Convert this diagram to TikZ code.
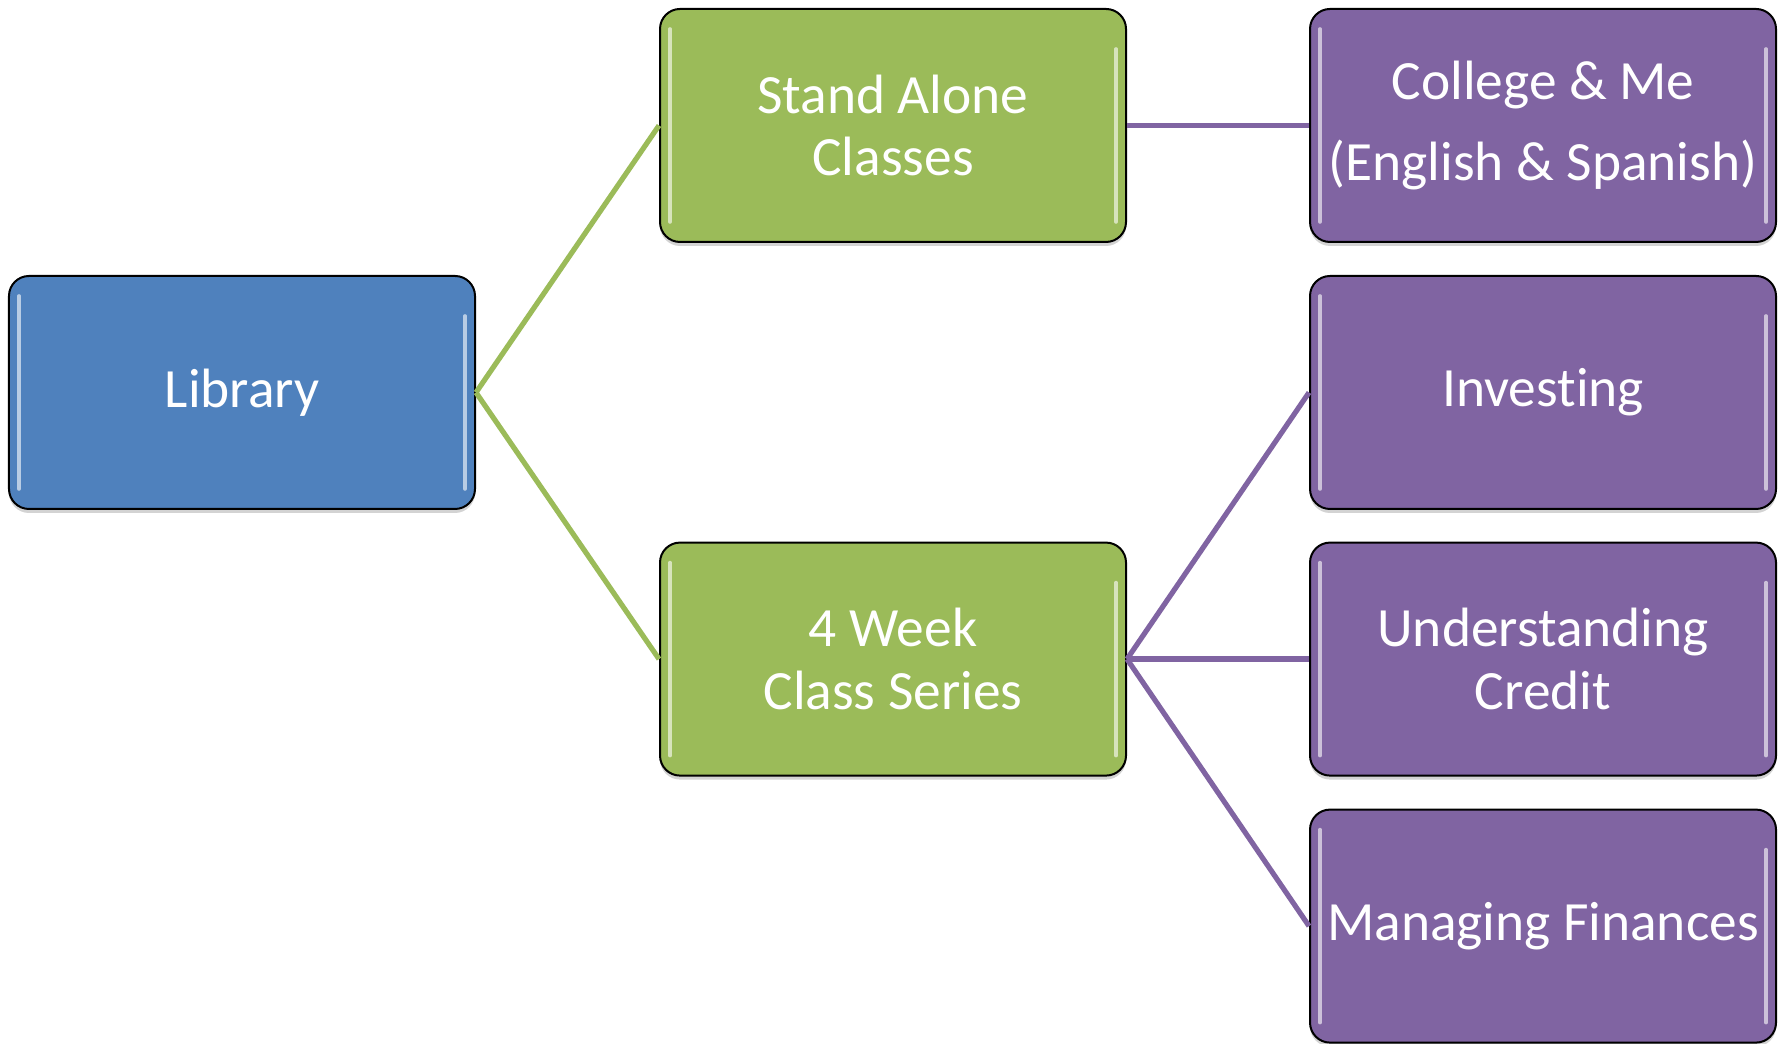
\documentclass[tikz,border=0pt]{standalone}
\usepackage{fontspec}
\setmainfont[Ligatures=NoCommon]{Carlito}
\usetikzlibrary{positioning,shadows}
\definecolor{libblue}{HTML}{4F81BD}
\definecolor{classgreen}{HTML}{9BBB59}
\definecolor{topicpurple}{HTML}{8064A2}

\begin{document}
\begin{tikzpicture}[
	box/.style={draw=black, line width=0.5pt, rounded corners=5pt,
		minimum width=116.5pt, minimum height=58.25pt, inner sep=0pt,
		text=white, align=center, font=\fontsize{13.85pt}{15.6pt}\selectfont,
		drop shadow={shadow xshift=0pt, shadow yshift=-1pt, opacity=0.35},
		path picture={
			\draw[white, opacity=0.6, line width=0.9pt, line cap=round]
				([xshift=2.5pt, yshift=-5pt]path picture bounding box.north west)
				-- ([xshift=2.5pt, yshift=5pt]path picture bounding box.south west);
			\draw[white, opacity=0.6, line width=0.9pt, line cap=round]
				([xshift=-2.5pt, yshift=-10pt]path picture bounding box.north east)
				-- ([xshift=-2.5pt, yshift=5pt]path picture bounding box.south east);
		}},
	libbox/.style={box, fill=libblue},
	classbox/.style={box, fill=classgreen},
	topicbox/.style={box, fill=topicpurple},
	greenline/.style={classgreen, line width=1.3pt},
	purpleline/.style={topicpurple, line width=1.3pt}
]
	\useasboundingbox (-60.5pt,-162.875pt) rectangle (385.25pt,98.125pt);

	\node[libbox](lib){Library};
	\node[classbox](stand)[above right = 8pt and 45.75pt of lib]{Stand Alone\\Classes};
	\node[classbox](week)[below right = 7.9pt and 45.75pt of lib]{4 Week\\Class Series};
	\node[topicbox](college)[right = 45.5pt of stand]{College \& Me\\[4.8pt](English \& Spanish)};
	\node[topicbox](under)[right = 45.5pt of week]{Understanding\\Credit};
	\node[topicbox](invest)[above = 7.9pt of under]{Investing};
	\node[topicbox](manage)[below = 8pt of under]{Managing Finances};

	\draw[greenline](lib.east) -- (stand.west);
	\draw[greenline](lib.east) -- (week.west);
	\draw[purpleline](stand.east) -- (college.west);
	\draw[purpleline](week.east) -- (invest.west);
	\draw[purpleline](week.east) -- (under.west);
	\draw[purpleline](week.east) -- (manage.west);
\end{tikzpicture}
\end{document}
